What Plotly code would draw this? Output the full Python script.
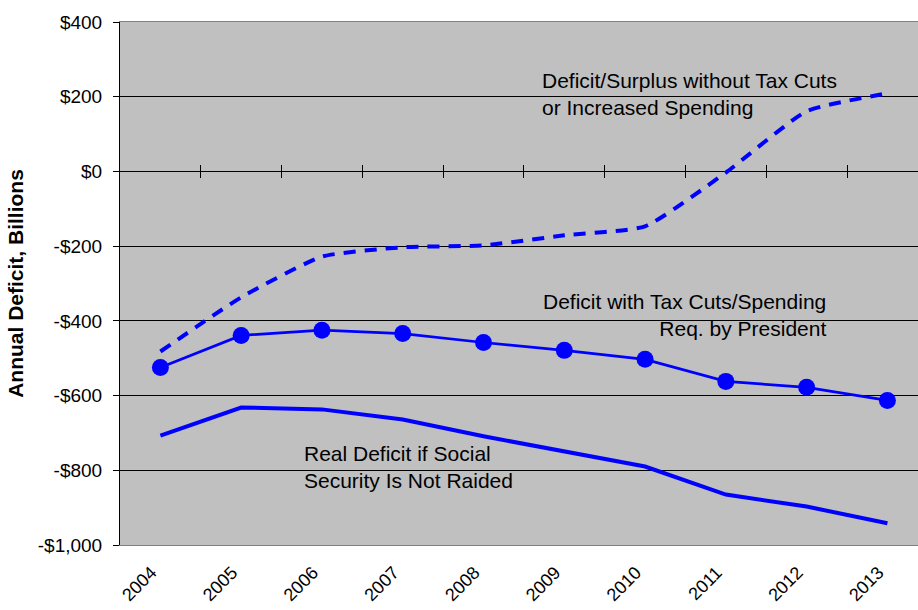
import plotly.graph_objects as go

years = ["2004", "2005", "2006", "2007", "2008", "2009", "2010", "2011", "2012", "2013"]
no_tax_cuts = [-482, -337, -228, -203, -198, -171, -147, -3, 161, 209]
with_tax_cuts = [-525, -439, -425, -434, -458, -479, -503, -562, -578, -613]
real_deficit = [-707, -632, -637, -664, -709, -749, -790, -865, -897, -942]
y_ticks = [400, 200, 0, -200, -400, -600, -800, -1000]
y_tick_labels = ["$400", "$200", "$0", "-$200", "-$400", "-$600", "-$800", "-$1,000"]

idx = list(range(len(years)))
boundaries = [i + 0.5 for i in idx[:-1]]
BLUE = "#0000FF"
FONT = "Liberation Sans, Arial, sans-serif"

fig = go.Figure()
fig.add_trace(go.Scatter(x=idx, y=no_tax_cuts, mode="lines",
                         line=dict(color=BLUE, width=4, dash="12px,9px", shape="spline", smoothing=0.5),
                         showlegend=False, hoverinfo="skip"))
fig.add_trace(go.Scatter(x=idx, y=with_tax_cuts, mode="lines+markers",
                         line=dict(color=BLUE, width=2.7),
                         marker=dict(color=BLUE, size=17),
                         showlegend=False, hoverinfo="skip"))
fig.add_trace(go.Scatter(x=idx, y=real_deficit, mode="lines",
                         line=dict(color=BLUE, width=4),
                         showlegend=False, hoverinfo="skip"))
# invisible traces to activate the zero-crossing tick axes
fig.add_trace(go.Scatter(x=[0], y=[0], xaxis="x2", mode="none", showlegend=False, hoverinfo="skip"))
fig.add_trace(go.Scatter(x=[0], y=[0], xaxis="x3", mode="none", showlegend=False, hoverinfo="skip"))

xr = [-0.5, -0.5 + (918 - 120) / 80.78]
zero_pos = (0 - y_ticks[-1]) / (y_ticks[0] - y_ticks[-1])

fig.update_layout(
    width=918, height=610,
    margin=dict(l=120, r=0, t=22, b=65, autoexpand=False),
    paper_bgcolor="white", plot_bgcolor="#C0C0C0",
    font=dict(family=FONT, size=19, color="black"),
    xaxis=dict(range=xr, tickmode="array", tickvals=idx, ticktext=years, tickangle=-45,
               showgrid=False, zeroline=False, ticks="", showline=True, linecolor="#808080",
               linewidth=1, mirror=True, tickfont=dict(size=18), automargin=False,
               ticklabelstandoff=9, ticklabelshift=-9),
    xaxis2=dict(overlaying="x", matches="x", anchor="free", position=zero_pos, side="bottom",
                tickmode="array", tickvals=boundaries, ticks="outside", ticklen=6, tickcolor="black",
                showticklabels=False, showgrid=False, zeroline=False, showline=False, automargin=False),
    xaxis3=dict(overlaying="x", matches="x", anchor="free", position=zero_pos, side="bottom",
                tickmode="array", tickvals=boundaries, ticks="inside", ticklen=6, tickcolor="black",
                showticklabels=False, showgrid=False, zeroline=False, showline=False, automargin=False),
    yaxis=dict(range=[y_ticks[-1], y_ticks[0]], tickmode="array", tickvals=y_ticks, ticktext=y_tick_labels,
               showgrid=True, gridcolor="black", gridwidth=1, zeroline=False,
               ticks="outside", ticklen=6, tickcolor="black", showline=True, linecolor="black", linewidth=1,
               tickfont=dict(size=19), ticklabelstandoff=7, automargin=False,
               title=dict(text="<b>Annual Deficit, Billions</b>", font=dict(size=21), standoff=8)),
)

ann_font = dict(family=FONT, size=21, color="black")
fig.add_annotation(x=4.70, y=207, xref="x", yref="y",
                   text="Deficit/Surplus without Tax Cuts<br>or Increased Spending",
                   showarrow=False, xanchor="left", yanchor="middle", align="left", font=ann_font)
fig.add_annotation(x=8.27, y=-385, xref="x", yref="y",
                   text="Deficit with Tax Cuts/Spending<br>Req. by President",
                   showarrow=False, xanchor="right", yanchor="middle", align="right", font=ann_font)
fig.add_annotation(x=1.75, y=-792, xref="x", yref="y",
                   text="Real Deficit if Social<br>Security Is Not Raided",
                   showarrow=False, xanchor="left", yanchor="middle", align="left", font=ann_font)

fig.write_html("out.html")
